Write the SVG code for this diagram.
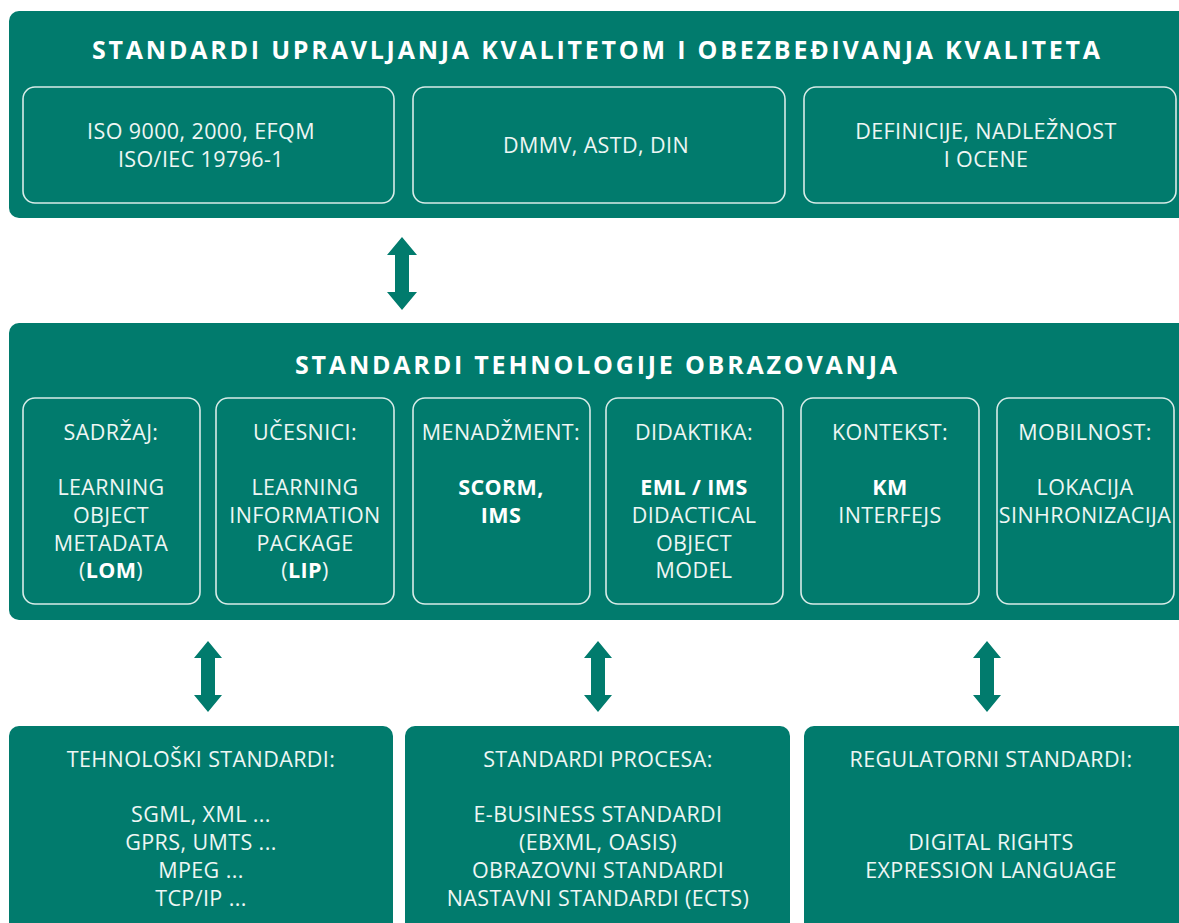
<svg xmlns="http://www.w3.org/2000/svg" width="1179" height="923" viewBox="0 0 1179 923">
  <style>
    .panel { fill: #017b6d; }
    .inner { fill: none; stroke: #d8ece8; stroke-width: 1.6; }
    .arrow { fill: #017b6d; }
    .title { font-family: "Open Sans", "Liberation Sans", sans-serif; font-weight: 700; font-size: 25px; fill: #ffffff; }
    .t { font-family: "Open Sans", "Liberation Sans", sans-serif; font-size: 21.5px; letter-spacing: 0.4px; fill: #eef6f4; text-anchor: middle; }
    .b { font-weight: 700; fill: #ffffff; }
  </style>
  <rect width="1179" height="923" fill="#ffffff"/>

  <!-- Quality management standards -->
  <g id="quality">
    <rect class="panel" x="9" y="11" width="1190" height="207" rx="10"/>
    <text class="title" x="92" y="59" textLength="1008" lengthAdjust="spacing">STANDARDI UPRAVLJANJA KVALITETOM I OBEZBEĐIVANJA KVALITETA</text>
  </g>
  <g id="q-iso">
    <rect class="inner" x="23" y="87" width="371" height="116" rx="12"/>
    <text class="t" x="201" y="139">ISO 9000, 2000, EFQM</text>
    <text class="t" x="201" y="167">ISO/IEC 19796-1</text>
  </g>
  <g id="q-dmmv">
    <rect class="inner" x="413" y="87" width="372" height="116" rx="12"/>
    <text class="t" x="596" y="153">DMMV, ASTD, DIN</text>
  </g>
  <g id="q-def">
    <rect class="inner" x="804" y="87" width="372" height="116" rx="12"/>
    <text class="t" x="986" y="139">DEFINICIJE, NADLEŽNOST</text>
    <text class="t" x="986" y="167">I OCENE</text>
  </g>

  <!-- Educational technology standards -->
  <g id="edutech">
    <rect class="panel" x="9" y="323" width="1190" height="297" rx="10"/>
    <text class="title" x="295" y="374" textLength="602" lengthAdjust="spacing">STANDARDI TEHNOLOGIJE OBRAZOVANJA</text>
  </g>
  <g id="e-content">
    <rect class="inner" x="23" y="398" width="177" height="206" rx="12"/>
    <text class="t" x="111" y="440">SADRŽAJ:</text>
    <text class="t" x="111" y="495">LEARNING</text>
    <text class="t" x="111" y="523">OBJECT</text>
    <text class="t" x="111" y="551">METADATA</text>
    <text class="t" x="111" y="578">(<tspan class="b">LOM</tspan>)</text>
  </g>
  <g id="e-participants">
    <rect class="inner" x="216" y="398" width="178" height="206" rx="12"/>
    <text class="t" x="305" y="440">UČESNICI:</text>
    <text class="t" x="305" y="495">LEARNING</text>
    <text class="t" x="305" y="523">INFORMATION</text>
    <text class="t" x="305" y="551">PACKAGE</text>
    <text class="t" x="305" y="578">(<tspan class="b">LIP</tspan>)</text>
  </g>
  <g id="e-management">
    <rect class="inner" x="413" y="398" width="177" height="206" rx="12"/>
    <text class="t" x="501" y="440">MENADŽMENT:</text>
    <text class="t b" x="501" y="495">SCORM,</text>
    <text class="t b" x="501" y="523">IMS</text>
  </g>
  <g id="e-didactics">
    <rect class="inner" x="606" y="398" width="177" height="206" rx="12"/>
    <text class="t" x="694" y="440">DIDAKTIKA:</text>
    <text class="t b" x="694" y="495">EML / IMS</text>
    <text class="t" x="694" y="523">DIDACTICAL</text>
    <text class="t" x="694" y="551">OBJECT</text>
    <text class="t" x="694" y="578">MODEL</text>
  </g>
  <g id="e-context">
    <rect class="inner" x="801" y="398" width="178" height="206" rx="12"/>
    <text class="t" x="890" y="440">KONTEKST:</text>
    <text class="t b" x="890" y="495">KM</text>
    <text class="t" x="890" y="523">INTERFEJS</text>
  </g>
  <g id="e-mobility">
    <rect class="inner" x="997" y="398" width="177" height="206" rx="12"/>
    <text class="t" x="1085" y="440">MOBILNOST:</text>
    <text class="t" x="1085" y="495">LOKACIJA</text>
    <text class="t" x="1085" y="523">SINHRONIZACIJA</text>
  </g>

  <!-- Bottom row -->
  <g id="technological">
    <rect class="panel" x="9" y="726" width="384" height="220" rx="10"/>
    <text class="t" x="201" y="767">TEHNOLOŠKI STANDARDI:</text>
    <text class="t" x="201" y="822">SGML, XML ...</text>
    <text class="t" x="201" y="850">GPRS, UMTS ...</text>
    <text class="t" x="201" y="878">MPEG ...</text>
    <text class="t" x="201" y="906">TCP/IP ...</text>
  </g>
  <g id="process">
    <rect class="panel" x="405" y="726" width="385" height="220" rx="10"/>
    <text class="t" x="598" y="767">STANDARDI PROCESA:</text>
    <text class="t" x="598" y="822">E-BUSINESS STANDARDI</text>
    <text class="t" x="598" y="850">(EBXML, OASIS)</text>
    <text class="t" x="598" y="878">OBRAZOVNI STANDARDI</text>
    <text class="t" x="598" y="906">NASTAVNI STANDARDI (ECTS)</text>
  </g>
  <g id="regulatory">
    <rect class="panel" x="804" y="726" width="390" height="220" rx="10"/>
    <text class="t" x="991" y="767">REGULATORNI STANDARDI:</text>
    <text class="t" x="991" y="850">DIGITAL RIGHTS</text>
    <text class="t" x="991" y="878">EXPRESSION LANGUAGE</text>
  </g>

  <!-- Double-headed connectors -->
  <g id="connectors">
    <path class="arrow" d="M402,237 L417,255 L409,255 L409,292 L417,292 L402,310 L387,292 L395,292 L395,255 L387,255 Z"/>
    <path class="arrow" d="M208,641 L222,658 L215,658 L215,695 L222,695 L208,712 L194,695 L201,695 L201,658 L194,658 Z"/>
    <path class="arrow" d="M598,641 L612,658 L605,658 L605,695 L612,695 L598,712 L584,695 L591,695 L591,658 L584,658 Z"/>
    <path class="arrow" d="M987,641 L1001,658 L994,658 L994,695 L1001,695 L987,712 L973,695 L980,695 L980,658 L973,658 Z"/>
  </g>
</svg>
